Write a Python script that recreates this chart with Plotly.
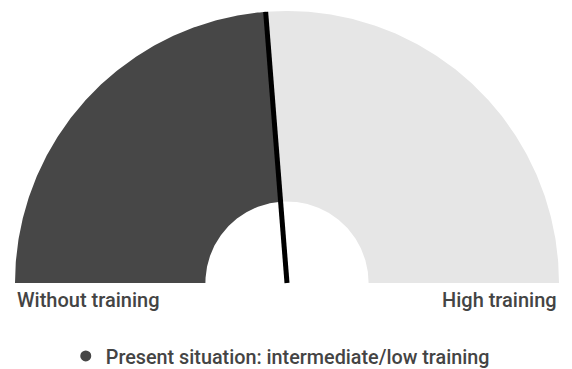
import numpy as np
import plotly.graph_objects as go

# Gauge data
gauge_min = 0
gauge_max = 100
present_value = 47.5
range_labels = ["Without training", "High training"]
series_name = "Present situation: intermediate/low training"

dark = "#474747"
light = "#e6e6e6"
text_color = "#444444"
inner_r = 0.30
outer_r = 1.0


def to_angle(v):
    frac = (v - gauge_min) / (gauge_max - gauge_min)
    return np.pi * (1 - frac)


def band(v0, v1, n=200):
    a = np.linspace(to_angle(v0), to_angle(v1), n)
    xs = np.concatenate([outer_r * np.cos(a), inner_r * np.cos(a[::-1])])
    ys = np.concatenate([outer_r * np.sin(a), inner_r * np.sin(a[::-1])])
    return np.append(xs, xs[0]), np.append(ys, ys[0])


fig = go.Figure()

for v0, v1, col in [(gauge_min, present_value, dark), (present_value, gauge_max, light)]:
    bx, by = band(v0, v1)
    fig.add_trace(go.Scatter(x=bx, y=by, fill="toself", fillcolor=col, mode="lines",
                             line=dict(width=0, color=col), hoverinfo="skip",
                             showlegend=False))

# Needle pointing at the present value
ang = to_angle(present_value)
fig.add_trace(go.Scatter(x=[0, outer_r * np.cos(ang)], y=[0, outer_r * np.sin(ang)],
                         mode="lines", line=dict(color="#000000", width=5),
                         hoverinfo="skip", showlegend=False))

# Legend entry
fig.add_trace(go.Scatter(x=[None], y=[None], mode="markers", name=series_name,
                         marker=dict(color=dark, size=11, symbol="circle")))

font = dict(family="Roboto, sans-serif", size=20, color=text_color, weight=500)
label_font = dict(font, size=20)
legend_font = dict(font, size=19.8)
fig.add_annotation(x=-outer_r, y=-0.011, xref="x", yref="y", text=range_labels[0],
                   showarrow=False, xanchor="left", yanchor="top", font=label_font)
fig.add_annotation(x=outer_r, y=-0.011, xref="x", yref="y", text=range_labels[1],
                   showarrow=False, xanchor="right", yanchor="top", font=label_font)

fig.update_layout(
    width=572, height=369,
    margin=dict(l=0, r=0, t=0, b=0, autoexpand=False),
    paper_bgcolor="white", plot_bgcolor="white",
    xaxis=dict(range=[-287 / 272, 285 / 272], visible=False, fixedrange=True),
    yaxis=dict(range=[-86 / 272, 283 / 272], visible=False, fixedrange=True),
    showlegend=True,
    legend=dict(orientation="h", x=0.49, xanchor="center", y=0.035, yanchor="middle",
                font=legend_font, itemwidth=30, bgcolor="rgba(0,0,0,0)"),
)

fig.write_html("out.html")
